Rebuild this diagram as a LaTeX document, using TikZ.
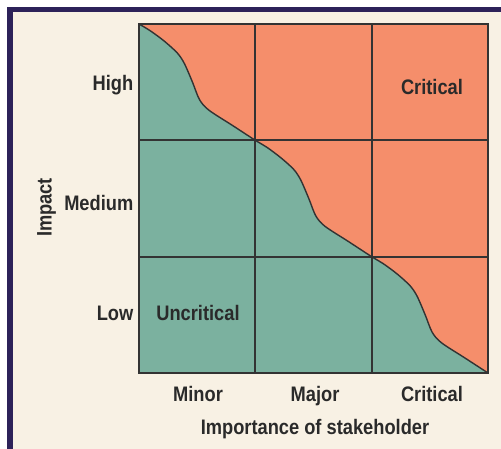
\documentclass[tikz,border=0pt]{standalone}
\usepackage{fontspec}
\setmainfont{Liberation Sans}[FakeStretch=0.87]
\definecolor{paper}{HTML}{F8F1E4}
\definecolor{frame}{HTML}{2D2259}
\definecolor{lowzone}{HTML}{7BB19F}
\definecolor{highzone}{HTML}{F58E6B}
\definecolor{ink}{HTML}{2A2A2A}
\definecolor{gridline}{HTML}{333333}
\tikzset{
  lbl/.style={font=\fontsize{21}{25}\selectfont\bfseries, text=ink, inner sep=0pt},
  gridrule/.style={draw=gridline, line width=2pt},
  boundary/.style={draw=gridline, line width=1.4pt, line join=round}
}
\newcommand{\boundarypts}{
  (139,24) (150.6,31.0) (164.6,41.4) (177.4,53.1) (184.4,63.6) (192.5,82.2)
  (199.5,99.6) (208.8,110.1) (232.1,125.2) (255.3,140.3)
  (266.9,147.3) (280.9,157.8) (293.7,169.4) (300.7,179.9) (308.8,198.5)
  (315.8,215.9) (325.1,226.4) (348.4,241.5) (371.7,256.7)
  (383.3,263.7) (397.3,274.1) (410.1,285.8) (417.1,296.2) (425.2,314.9)
  (432.2,332.3) (441.5,342.8) (464.8,357.9) (488,373)}
\begin{document}
\begin{tikzpicture}[x=1pt,y=-1pt]
  \useasboundingbox (0,0) rectangle (501,449);
  % page and frame
  \fill[white] (0,0) rectangle (501,449);
  \fill[frame] (7,7) rectangle (501,449);
  \fill[paper] (12.5,12.5) rectangle (501,449);
  % matrix zones
  \fill[lowzone] (139,24) rectangle (488,373);
  \fill[highzone] plot[smooth] coordinates {\boundarypts} -- (488,24) -- cycle;
  % grid
  \draw[gridrule] (255.3,24) -- (255.3,373);
  \draw[gridrule] (371.7,24) -- (371.7,373);
  \draw[gridrule] (139,140.3) -- (488,140.3);
  \draw[gridrule] (139,256.7) -- (488,256.7);
  % boundary between zones
  \draw[boundary] plot[smooth] coordinates {\boundarypts};
  \draw[gridrule] (139,24) rectangle (488,373);
  % axis labels
  \node[lbl, anchor=base east] (high) at (133.5,91) {High};
  \node[lbl, anchor=base east] (medium) at (133.5,210.5) {Medium};
  \node[lbl, anchor=base east] (low) at (133.5,320) {Low};
  \node[lbl, anchor=base, rotate=90] (impact) at (51.5,207.5) {Impact};
  \node[lbl, anchor=base] (minor) at (198,401.5) {Minor};
  \node[lbl, anchor=base] (major) at (315,401.5) {Major};
  \node[lbl, anchor=base] (critx) at (432,401.5) {Critical};
  \node[lbl, anchor=base] (importance) at (315,434) {Importance of stakeholder};
  % zone labels
  \node[lbl, anchor=base] (uncritical) at (198,320) {Uncritical};
  \node[lbl, anchor=base] (critical) at (432,94.5) {Critical};
\end{tikzpicture}
\end{document}
